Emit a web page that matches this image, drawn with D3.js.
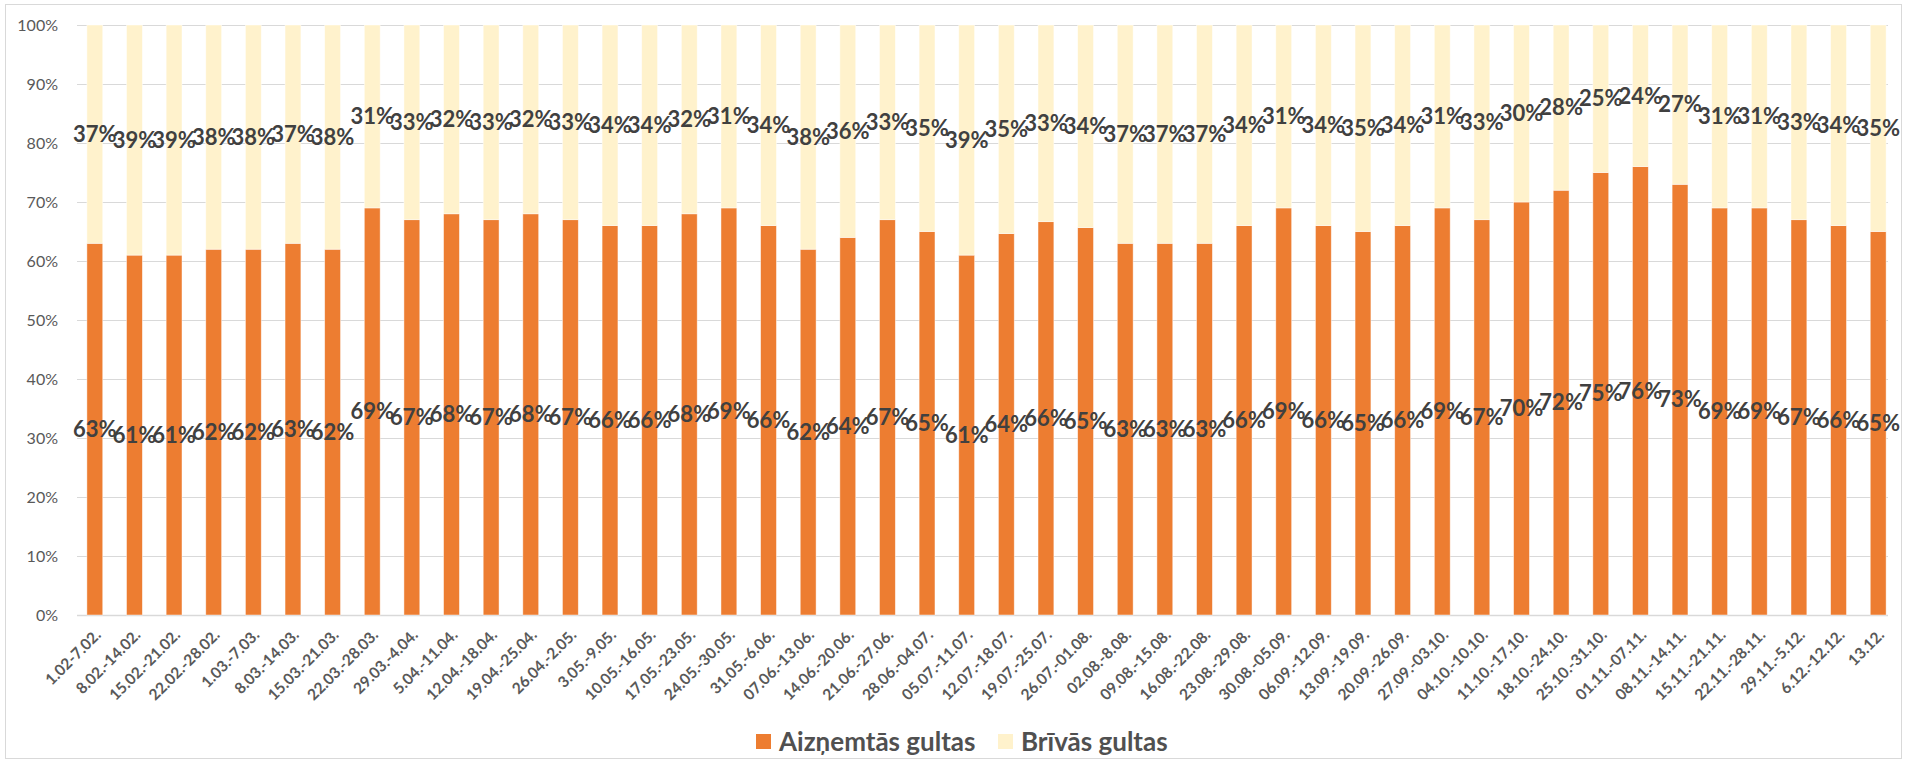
<!DOCTYPE html>
<html>
<head>
<meta charset="utf-8">
<script src="https://cdn.jsdelivr.net/npm/d3@7"></script>
<style>
  html, body { margin: 0; padding: 0; background: #fff; }
  svg { display: block; font-family: Lato, "Open Sans", sans-serif; }
</style>
</head>
<body>
<div id="chart"></div>
<script>
const weeks = [
  '1.02-7.02.', '8.02.-14.02.', '15.02.-21.02.', '22.02.-28.02.', '1.03.-7.03.',
  '8.03.-14.03.', '15.03.-21.03.', '22.03.-28.03.', '29.03.-4.04.', '5.04.-11.04.',
  '12.04.-18.04.', '19.04.-25.04.', '26.04.-2.05.', '3.05.-9.05.', '10.05.-16.05.',
  '17.05.-23.05.', '24.05.-30.05.', '31.05.-6.06.', '07.06.-13.06.', '14.06.-20.06.',
  '21.06.-27.06.', '28.06.-04.07.', '05.07.-11.07.', '12.07.-18.07.', '19.07.-25.07.',
  '26.07.-01.08.', '02.08.-8.08.', '09.08.-15.08.', '16.08.-22.08.', '23.08.-29.08.',
  '30.08.-05.09.', '06.09.-12.09.', '13.09.-19.09.', '20.09.-26.09.', '27.09.-03.10.',
  '04.10.-10.10.', '11.10.-17.10.', '18.10.-24.10.', '25.10.-31.10.', '01.11.-07.11.',
  '08.11.-14.11.', '15.11.-21.11.', '22.11.-28.11.', '29.11.-5.12.', '6.12.-12.12.',
  '13.12.'
];

// aizņemtās (occupied) un brīvās (free) gultas, %
const occupied = [
  63, 61, 61, 62, 62, 63, 62, 69, 67, 68,
  67, 68, 67, 66, 66, 68, 69, 66, 62, 64,
  67, 65, 61, 64, 66, 65, 63, 63, 63, 66,
  69, 66, 65, 66, 69, 67, 70, 72, 75, 76,
  73, 69, 69, 67, 66, 65
];
const free = [
  37, 39, 39, 38, 38, 37, 38, 31, 33, 32,
  33, 32, 33, 34, 34, 32, 31, 34, 38, 36,
  33, 35, 39, 35, 33, 34, 37, 37, 37, 34,
  31, 34, 35, 34, 31, 33, 30, 28, 25, 24,
  27, 31, 31, 33, 34, 35
];
const yTicks = [0, 0.1, 0.2, 0.3, 0.4, 0.5, 0.6, 0.7, 0.8, 0.9, 1];

const seriesNames = ['Aizņemtās gultas', 'Brīvās gultas'];
const colors = ['#ED7D31', '#FFF2CC'];

const width = 1907, height = 764;
const margin = { top: 25, right: 9, bottom: 149, left: 75 };

const svg = d3.select('#chart').append('svg')
  .attr('width', width)
  .attr('height', height);

// rāmis ap visu diagrammu
svg.append('rect')
  .attr('x', 5.5).attr('y', 4.5)
  .attr('width', width - 11).attr('height', height - 10)
  .attr('fill', 'none')
  .attr('stroke', '#D9D9D9');

const x = d3.scaleBand()
  .domain(weeks)
  .range([margin.left, width - margin.right])
  .paddingInner(0.6)
  .paddingOuter(0.3);

const y = d3.scaleLinear()
  .domain([0, 1])
  .range([height - margin.bottom, margin.top]);

// režģis
svg.append('g')
  .selectAll('line')
  .data(yTicks)
  .join('line')
  .attr('x1', margin.left + 2)
  .attr('x2', width - margin.right - 10)
  .attr('y1', d => Math.round(y(d)) + 0.5)
  .attr('y2', d => Math.round(y(d)) + 0.5)
  .attr('stroke', '#D9D9D9')
  .attr('stroke-width', d => d === 0 ? 1.5 : 1);

// y ass
const yAxis = d3.axisLeft(y)
  .tickValues(yTicks)
  .tickFormat(d3.format('.0%'))
  .tickSize(0)
  .tickPadding(17);
svg.append('g')
  .attr('transform', `translate(${margin.left},0)`)
  .call(yAxis)
  .call(g => g.select('.domain').remove())
  .call(g => g.selectAll('text')
    .attr('fill', '#595959')
    .style('font-size', '16px')
    .style('font-family', 'Lato, sans-serif'));

// 100% sakrautas kolonnas (kā Excel)
const table = weeks.map((w, i) => ({ week: w, occ: occupied[i], free: free[i] }));
const stacked = d3.stack()
  .keys(['occ', 'free'])
  .offset(d3.stackOffsetExpand)(table);

const layers = svg.append('g')
  .selectAll('g')
  .data(stacked)
  .join('g')
  .attr('fill', (d, i) => colors[i]);

layers.selectAll('rect')
  .data(d => d)
  .join('rect')
  .attr('x', d => x(d.data.week))
  .attr('width', x.bandwidth())
  .attr('y', d => y(d[1]))
  .attr('height', d => y(d[0]) - y(d[1]))
  .attr('stroke', '#fff')
  .attr('stroke-opacity', 0.6)
  .attr('stroke-width', 0.75);

// datu etiķetes
layers.selectAll('text')
  .data(d => d.map(p => ({ p, key: d.key })))
  .join('text')
  .attr('x', d => x(d.p.data.week) + x.bandwidth() / 2)
  .attr('y', d => y((d.p[0] + d.p[1]) / 2))
  .attr('dy', '0.35em')
  .attr('text-anchor', 'middle')
  .attr('fill', '#404040')
  .style('font-weight', 'bold')
  .style('font-size', '22px')
  .text(d => d.p.data[d.key] + '%');

// x ass
const xAxis = d3.axisBottom(x).tickSize(0).tickPadding(0);
svg.append('g')
  .attr('transform', `translate(0,${height - margin.bottom})`)
  .call(xAxis)
  .call(g => g.select('.domain').remove())
  .call(g => g.selectAll('text')
    .attr('text-anchor', 'end')
    .attr('fill', '#595959')
    .style('font-size', '15.5px')
    .style('font-weight', 'bold')
    .style('font-family', 'Lato, sans-serif')
    .attr('dy', 0)
    .attr('transform', 'translate(7,21) rotate(-45)'));

// leģenda
const legendX = [756, 998];
const legend = svg.append('g')
  .selectAll('g')
  .data(seriesNames)
  .join('g')
  .attr('transform', (d, i) => `translate(${legendX[i]},742)`);
legend.append('rect')
  .attr('x', 0).attr('y', -8)
  .attr('width', 15).attr('height', 15)
  .attr('fill', (d, i) => colors[i]);
legend.append('text')
  .attr('x', 23)
  .attr('dy', '0.35em')
  .attr('fill', '#505050')
  .style('font-weight', 'bold')
  .style('font-size', '26px')
  .text(d => d);
</script>
</body>
</html>
